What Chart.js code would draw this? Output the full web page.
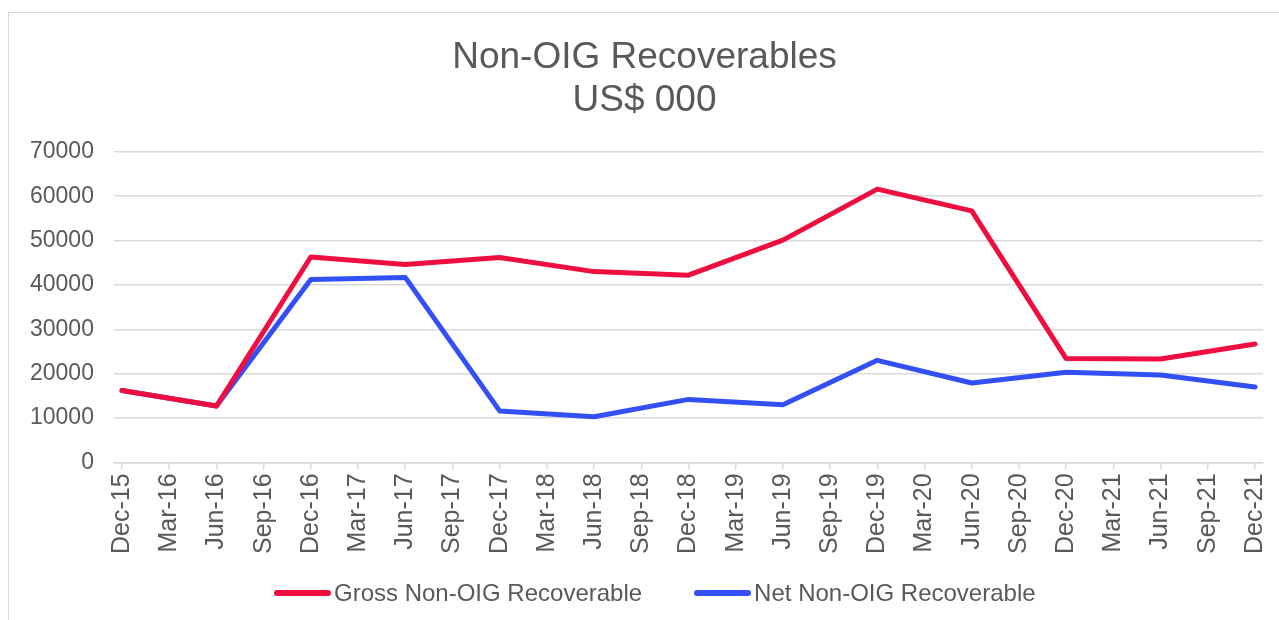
<!DOCTYPE html>
<html>
<head>
<meta charset="utf-8">
<script src="https://cdn.jsdelivr.net/npm/chart.js@4"></script>
<style>
  html, body { margin: 0; padding: 0; background: #fff; }
  #marco { position: absolute; left: 8px; top: 12px; width: 1400px; height: 700px; border: 1.5px solid #d9d9d9; }
  #caja { position: absolute; left: 0; top: 0; width: 1279px; height: 620px; }
  #leyenda { position: absolute; left: 274px; top: 578px; display: flex; gap: 52px;
             font: 24px 'Liberation Sans', Arial, sans-serif; color: #595959; line-height: 30px; }
  #leyenda .item { display: flex; align-items: center; }
  #leyenda .linea { width: 57px; height: 6px; border-radius: 3px; margin-right: 3px; }
</style>
</head>
<body>
<div id="marco"></div>
<div id="caja"><canvas id="graficoRecuperables"></canvas></div>
<div id="leyenda"></div>
<script>
// etiquetas trimestrales del eje x
const trimestres = ['Dec-15', 'Mar-16', 'Jun-16', 'Sep-16', 'Dec-16', 'Mar-17', 'Jun-17', 'Sep-17', 'Dec-17',
    'Mar-18', 'Jun-18', 'Sep-18', 'Dec-18', 'Mar-19', 'Jun-19', 'Sep-19', 'Dec-19', 'Mar-20', 'Jun-20',
    'Sep-20', 'Dec-20', 'Mar-21', 'Jun-21', 'Sep-21', 'Dec-21'];
// fechas con datos (semestrales)
const fechas = ['Dec-15', 'Jun-16', 'Dec-16', 'Jun-17', 'Dec-17', 'Jun-18', 'Dec-18', 'Jun-19', 'Dec-19',
    'Jun-20', 'Dec-20', 'Jun-21', 'Dec-21'];
const bruto = [16200, 12700, 46300, 44600, 46200, 43000, 42200, 50100, 61600, 56700, 23400, 23300, 26700];
const neto = [16200, 12700, 41200, 41700, 11600, 10300, 14200, 13000, 23000, 17900, 20300, 19700, 17000];
const marcasY = [0, 10000, 20000, 30000, 40000, 50000, 60000, 70000];

function puntos(valores) {
    return valores.map((v, i) => ({ x: trimestres.indexOf(fechas[i]), y: v }));
}

const gris = '#595959';
const contexto = document.getElementById('graficoRecuperables').getContext('2d');

const grafico = new Chart(contexto, {
    type: 'line',
    data: {
        datasets: [{
            label: 'Gross Non-OIG Recoverable',
            data: puntos(bruto),
            borderColor: '#EE0E3F',
            backgroundColor: '#EE0E3F',
            borderWidth: 5,
            borderCapStyle: 'round',
            borderJoinStyle: 'round',
            pointRadius: 0,
            tension: 0
        }, {
            label: 'Net Non-OIG Recoverable',
            data: puntos(neto),
            borderColor: '#3350F6',
            backgroundColor: '#3350F6',
            borderWidth: 5,
            borderCapStyle: 'round',
            borderJoinStyle: 'round',
            pointRadius: 0,
            tension: 0
        }]
    },
    options: {
        responsive: true,
        maintainAspectRatio: false,
        animation: false,
        layout: { padding: { left: 10, right: 0, top: 36, bottom: 62 } },
        plugins: {
            title: {
                display: true,
                text: ['Non-OIG Recoverables', 'US$ 000'],
                color: gris,
                font: { family: 'Liberation Sans, Arial', size: 37, weight: 'normal', lineHeight: 1.16 },
                padding: { top: 0, bottom: 30 }
            },
            legend: { display: false },
            tooltip: { enabled: false }
        },
        scales: {
            x: {
                type: 'linear',
                min: -0.17,
                max: trimestres.length - 1 + 0.17,
                afterBuildTicks: (eje) => {
                    eje.ticks = trimestres.map((_, i) => ({ value: i }));
                },
                ticks: {
                    autoSkip: false,
                    minRotation: 90,
                    maxRotation: 90,
                    color: gris,
                    padding: 4,
                    font: { family: 'Liberation Sans, Arial', size: 25, lineHeight: 0.8 },
                    callback: (valor) => trimestres[valor]
                },
                grid: { drawOnChartArea: false, color: '#d9d9d9', lineWidth: 1.5, tickLength: 7 },
                border: { color: '#d9d9d9', width: 1.5 }
            },
            y: {
                min: 0,
                max: 70000,
                afterBuildTicks: (eje) => {
                    eje.ticks = marcasY.map((v) => ({ value: v }));
                },
                ticks: {
                    color: gris,
                    padding: 20,
                    font: { family: 'Liberation Sans, Arial', size: 23 },
                    callback: (valor) => String(valor)
                },
                grid: { color: '#d9d9d9', lineWidth: 1.5, drawTicks: false },
                border: { display: false }
            }
        }
    }
});

// leyenda en HTML a partir de las series
const leyenda = document.getElementById('leyenda');
grafico.data.datasets.forEach((serie) => {
    const item = document.createElement('div');
    item.className = 'item';
    const linea = document.createElement('span');
    linea.className = 'linea';
    linea.style.background = serie.borderColor;
    const texto = document.createElement('span');
    texto.textContent = serie.label;
    item.appendChild(linea);
    item.appendChild(texto);
    leyenda.appendChild(item);
});
</script>
</body>
</html>
